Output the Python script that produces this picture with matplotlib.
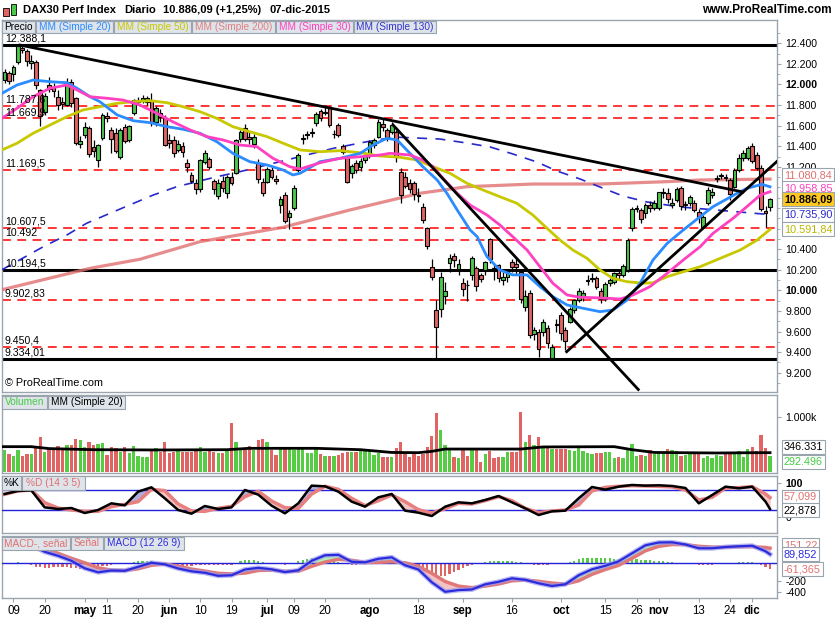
import numpy as np
import matplotlib
matplotlib.use("Agg")
import matplotlib.pyplot as plt
from matplotlib.patches import Rectangle

plt.rcParams['font.family'] = ['Liberation Sans', 'DejaVu Sans']

# ---------------- data ----------------
tick_idx = [2, 9, 18, 23, 30, 37, 44, 51, 59, 65, 72, 82, 93, 103, 114, 125, 135, 142, 147, 156, 163, 168]
tick_lbl = ["09", "20", "may", "11", "20", "jun", "10", "19", "jul", "09", "20", "ago", "18", "sep", "16",
            "oct", "15", "26", "nov", "13", "24", "dic"]
month_lbl = {"may", "jun", "jul", "ago", "sep", "oct", "nov", "dic"}

opens = [12040,12110,12100,12221,12353,12330,12210,12221,11946,11736,
         11995,11975,11883,11825,11801,12027,11866,11420,11509,11574,
         11390,11270,11477,11690,11558,11526,11300,11591,11461,11720,
         11830,11850,11833,11849,11638,11720,11672,11461,11461,11364,
         11400,11240,11121,11040,10980,11250,11280,11060,10915,11060,
         10943,11104,11137,11470,11574,11490,11420,11234,11056,11056,
         11170,11080,10830,10926,10716,10800,11169,11470,11509,11530,
         11623,11739,11720,11769,11515,11606,11400,11283,11140,11240,
         11200,11270,11315,11410,11493,11620,11558,11540,11541,11153,
         11100,11040,11040,10930,10813,10603,10230,9810,9816,9950,
         10270,10329,10210,10074,10052,10150,10215,10150,10198,10497,
         10215,10246,10105,10130,10280,10260,10182,9841,9971,9576,
         9598,9598,9633,9340,9670,9760,9615,9696,9809,9910,
         9950,10090,10115,10117,9990,9920,10070,10080,10170,10150,
         10198,10603,10795,10780,10750,10830,10800,10800,10945,10948,
         10830,10880,10990,10830,10846,10850,10765,10620,10850,10930,
         11080,11115,11095,11072,11007,11169,11290,11290,11400,11315,
         11186,10770,10810]
highs = [12150,12135,12185,12390,12388,12345,12290,12240,11960,11920,
         12076,12010,11950,11880,12060,12050,11880,11500,11640,11600,
         11460,11420,11720,11730,11590,11580,11580,11620,11610,11860,
         11880,11900,11890,11914,11790,11760,11700,11520,11500,11460,
         11440,11280,11150,11080,11280,11360,11300,11080,11080,11110,
         11120,11150,11470,11560,11620,11540,11520,11280,11090,11200,
         11200,11120,10920,10960,10780,11020,11330,11520,11550,11580,
         11730,11760,11802,11790,11560,11630,11420,11300,11230,11270,
         11290,11340,11460,11480,11660,11670,11580,11640,11560,11190,
         11150,11080,11060,10990,10850,10620,10300,9910,10180,10080,
         10350,10360,10300,10120,10100,10330,10240,10170,10290,10510,
         10250,10260,10180,10200,10300,10300,10200,10000,10000,9640,
         9620,9720,9660,9480,9720,9790,9640,9840,9920,10020,
         10000,10150,10170,10140,10020,10080,10120,10180,10200,10260,
         10510,10810,10830,10800,10850,10870,10880,10960,10990,10990,
         10900,11000,11010,10870,10930,10880,10790,10730,11000,10990,
         11120,11140,11130,11090,11190,11320,11360,11400,11430,11340,
         11220,10820,10900]
lows = [12010,12000,12030,12200,12310,12180,12150,11960,11600,11700,
        11930,11880,11750,11760,11790,11780,11410,11380,11480,11300,
        11300,11200,11460,11640,11330,11330,11280,11430,11440,11700,
        11800,11820,11800,11600,11600,11640,11400,11380,11300,11340,
        11300,11150,11040,10940,10960,11230,11180,10940,10890,10960,
        10900,11020,11130,11440,11450,11420,11380,11040,10920,11040,
        11080,11030,10750,10650,10600,10780,11150,11420,11470,11490,
        11600,11650,11700,11590,11480,11490,11320,11040,11090,11140,
        11160,11240,11290,11380,11480,11550,11450,11520,11250,10850,
        10990,10950,10880,10860,10650,10400,10100,9338,9744,9870,
        10180,10230,10150,9950,9900,10100,9990,10080,10150,10270,
        10100,10080,10050,10080,10180,10150,9880,9800,9540,9520,
        9356,9560,9440,9334,9600,9520,9420,9680,9780,9890,
        9900,10050,10080,10010,9880,9900,10040,10060,10110,10130,
        10180,10580,10760,10650,10700,10760,10780,10780,10900,10850,
        10800,10860,10780,10780,10820,10760,10650,10607,10830,10900,
        11050,11080,11060,10880,10990,11150,11260,11270,11240,11170,
        10770,10618,10770]
closes = [12123,12036,12166,12375,12339,12228,12231,11999,11689,11891,
          11958,11940,11802,11811,12015,11817,11433,11454,11590,11328,
          11350,11410,11703,11674,11472,11350,11558,11447,11595,11845,
          11848,11865,11866,11623,11769,11682,11413,11436,11331,11420,
          11340,11197,11065,10985,11265,11333,11196,10985,11044,10995,
          11100,11040,11460,11542,11471,11473,11492,11083,10945,11180,
          11099,11058,10891,10677,10747,10996,11316,11484,11517,11540,
          11716,11673,11734,11604,11521,11512,11347,11056,11211,11174,
          11257,11309,11444,11460,11636,11585,11491,11605,11294,10925,
          11015,10985,10940,10916,10682,10432,10125,9648,10128,9997,
          10316,10299,10259,10016,10048,10318,10038,10109,10271,10303,
          10210,10124,10132,10188,10227,10230,9916,9949,9571,9613,
          9428,9689,9484,9450,9660,9582,9510,9815,9903,9995,
          9970,10097,10120,10033,9916,10065,10104,10164,10148,10238,
          10492,10795,10801,10692,10832,10801,10850,10951,10951,10887,
          10845,10988,10815,10833,10908,10783,10708,10713,10971,10960,
          11085,11120,11092,10934,11170,11285,11330,11382,11261,11190,
          10789,10752,10886]
volume_k = [394,322,285,394,285,322,322,425,625,364,
            425,394,467,394,479,485,588,576,455,546,
            485,503,515,304,455,437,364,455,334,467,
            285,273,261,406,425,364,546,346,364,394,
            364,364,364,394,455,364,382,364,346,346,
            412,891,546,425,425,467,394,576,600,546,
            394,304,425,455,455,394,425,455,334,334,
            455,322,285,285,285,304,346,364,364,364,
            394,394,382,304,334,273,273,261,425,546,
            364,273,322,285,
            322,455,649,1073,758,485,425,261,243,394,
            285,394,394,182,322,382,243,261,261,364,
            364,364,1091,546,667,485,625,455,425,406,
            406,406,406,394,382,425,382,346,322,346,
            334,364,364,243,261,243,406,503,285,304,
            285,394,322,346,322,406,394,382,285,304,
            322,322,322,243,285,243,304,285,322,364,
            334,382,261,406,455,382,667,425,285]

# moving averages: (bar index, value)
ma20_idx = [-0.6,2.8,6.4,10.2,14.0,16.3,19.2,21.4,25.3,28.9,32.7,36.5,40.1,43.9,47.7,51.3,55.1,59.0,62.6,64.8,
            66.4,70.9,75.4,79.9,82.8,85.9,88.2,91.1,94.0,97.2,99.4,101.7,104.6,106.2,108.4,111.3,114.2,117.4,
            120.3,123.2,126.4,130.0,133.8,136.7,139.9,142.8,145.7,148.9,152.5,156.3,159.2,164.6,166.8,170.2,172]
ma20_val = [11914,11995,12043,12027,12017,11963,11881,11833,11704,11648,11629,11590,11565,11526,11444,11331,11250,
            11218,11169,11121,11137,11250,11283,11331,11412,11477,11461,11331,11201,11072,10943,10781,10587,10521,
            10327,10198,10150,10150,10036,9939,9858,9826,9793,9809,9906,10069,10295,10457,10586,10716,10813,10943,
            10991,11030,11006]
ma30_idx = [-0.6,2.8,6.4,10.2,14.0,16.3,19.2,23.0,26.6,30.4,34.2,37.8,41.7,45.5,49.1,52.9,56.7,60.3,64.1,66.4,
            70.9,75.4,79.9,84.4,86.6,91.1,94.0,96.3,98.5,101.7,104.6,108.4,111.3,114.2,117.4,120.3,123.2,126.4,
            129.3,132.2,135.4,138.3,141.2,145.0,148.9,152.5,156.3,159.2,163.7,166.8,169.8,172]
ma30_val = [11671,11769,11881,11963,11995,11946,11881,11866,11849,11801,11720,11638,11558,11493,11461,11412,11396,
            11283,11201,11179,11240,11283,11298,11315,11331,11315,11266,11201,11089,10943,10829,10732,10635,10521,
            10392,10230,10069,9955,9933,9929,9923,9916,9955,10036,10166,10295,10424,10554,10700,10813,10926,10958]
ma50_idx = [-0.6,2.8,6.4,10.2,14.0,17.6,21.4,25.3,28.9,32.7,36.5,40.1,43.9,47.7,51.3,55.1,59.0,62.6,66.4,70.9,
            75.4,79.9,84.4,88.8,92.7,96.3,100.1,103.9,107.5,111.3,115.1,118.7,121.9,124.8,127.7,130.9,133.8,
            136.7,139.9,143.5,145.7,148.9,152.5,156.3,160.8,165.3,169.1,172]
ma50_val = [11364,11429,11526,11606,11687,11752,11784,11817,11833,11842,11823,11784,11736,11671,11590,11541,11493,
            11429,11364,11347,11357,11337,11305,11293,11266,11201,11137,11040,10975,10910,10846,10732,10603,10489,
            10392,10311,10198,10117,10084,10069,10074,10133,10181,10230,10311,10392,10489,10592]
ma200_idx = [-0.6,19.2,30.4,43.9,62.6,77.6,93.3,103.9,118.7,133.8,148.9,156.3,172]
ma200_val = [10006,10214,10302,10473,10613,10781,10943,11007,11033,11033,11056,11072,11081]
ma130_idx = [-0.6,8.7,14.0,18.4,23.7,33.4,38.7,47.7,52.9,64.9,73.9,81.4,87.7,97.8,103.9,109.1,114.2,119.6,124.1,
             129.3,133.8,138.9,144.4,151.8,172]
ma130_val = [10200,10424,10538,10651,10749,10926,11007,11104,11153,11283,11380,11444,11489,11470,11431,11393,11325,
             11247,11160,11082,11004,10917,10858,10810,10736]
volma_idx = [-0.6,6,10,20,35,50,55,70,80,87,93,96,99,116,121,137,141,146,160,168,172]
volma_val = [455,455,420,400,395,400,425,425,400,350,346,370,412,412,450,455,400,350,340,345,346]

# stochastic and MACD sampled every 3 bars
osc_idx = list(range(0, 172, 3)) + [172]
stoch_k = [68,77,79,28,23,26,11,20,40,34, 75,88,55,20,9,32,23,28,80,66,
           33,10,40,93,91,75,45,30,58,68, 18,12,2,30,43,40,50,62,43,25,
           5,16,18,55,89,81,90,95,93,94, 92,86,40,65,90,85,90,45, 22.878]
stoch_d = [67,77,80,42,26,20,16,16,30,37, 45,82,78,38,17,16,25,31,60,76,
           47,27,25,68,91,82,55,33,48,65, 45,21,11,24,40,38,48,60,48,25,
           12,17,20,35,77,88,91,93,92,91, 89,80,50,58,86,87,90,68, 57.099]
macd_line = [230,230,180,115,75,25,-50,-90,-72,-75, -35,5,-10,-52,-80,-95,-125,-120,-62,-45,
             -60,-88,-70,25,80,85,15,10,45,60, -20,-62,-190,-285,-268,-262,-210,-185,-150,-165,
             -200,-227,-210,-120,-60,-25,20,100,180,208, 210,188,150,150,163,170,176,120, 89.852]
macd_signal = [240,230,195,150,100,50,5,-45,-68,-72, -55,-20,-8,-28,-58,-78,-100,-106,-98,-72,
               -68,-80,-80,-30,12,40,30,8,10,16, 5,-30,-100,-182,-228,-244,-228,-207,-175,-167,
               -180,-198,-208,-175,-110,-62,-20,50,125,170, 188,186,170,162,161,166,166,158, 151.22]
macd_hist = [-10,-8,-5, 10,8, -5,-15, -35,-40,-45,-45,-40,-35,-35,-40,-45,
             -50,-55,-55,-50,-45,-40, -30,-22,-15,-10,-6,-4, 2,12,22,28,28,25,18, 8,2,-5,
             -15,-20,-24,-26,-24,-20,-18, -16,-15,-15,-18,-20,-20,-16, 8,22,32,36,34,
             20,12,8,3,0, -10,-14,-10, 5,20, 35,45,52,55,55,50,42, 30,18,8, -8,-14,-12,-6,
             4,12,20,24,25,22,17,12, -5,-20,-30,-35,
             -45,-65,-85,-105,-120,-130,-125,-110,-90,-70,-50,-30, -14,-5,
             8,18,25,28,28,26,22,22,18,14,8, -8,-12,-14,-14,-12,-10,-8,-6,-4,
             10,25,40,50,55,58,58,55,52,50,48,46,45,44,42,40,
             38,35,32,28,25,20,16,12,8,5,2, -4,-10,-14,-18,-16,-12,-8, -4,0,4,
             8,12,14,14,12,8, -20,-40,-61.365]

black_levels = [12388.1, 10194.5, 9334.01]
black_labels = ["12.388,1", "10.194,5", "9.334,01"]
red_levels = [11787.6, 11669.9, 11169.5, 10607.5, 10492.0, 9902.83, 9450.4]
red_labels = ["11.787,6", "11.669,9", "11.169,5", "10.607,5", "10.492", "9.902,83", "9.450,4"]

trend_lines = [([3.46, 165.9], [12383, 10956]),
               ([87.3, 142.4], [11606, 9037]),
               ([126.3, 173.5], [9404, 11250])]

# ---------------- styling ----------------
W, H = 835, 620
fig = plt.figure(figsize=(W / 100, H / 100), dpi=100)
fig.patch.set_facecolor('white')
GREEN = '#4cc84c'
RED = '#e06464'
SPINE = '#9aa4ae'
C20, C50, C200, C30, C130 = '#2a8cff', '#c8c800', '#e07070', '#ff40c0', '#2828cc'


def fx(x):
    return x / W


def fy(y):
    return 1 - y / H


def panel(y0, y1):
    a = fig.add_axes([fx(2), fy(y1), (777 - 2) / W, (y1 - y0) / H])
    for s in a.spines.values():
        s.set_color(SPINE)
        s.set_linewidth(1)
    a.yaxis.tick_right()
    a.tick_params(axis='y', which='both', colors=SPINE, labelcolor='black', labelsize=7.6, length=3, pad=3)
    a.set_xlim(-0.58, 173.57)
    a.set_xticks([])
    return a


N = len(closes)
xi = np.arange(N)
o, h, l, c = (np.array(v, float) for v in (opens, highs, lows, closes))
up = c >= o

# ---------- main price panel ----------
ax = panel(20, 392)
ax.set_ylim(9012.7, 12626.3)
for lev in black_levels:
    ax.axhline(lev, color='black', lw=2.2, zorder=2)
for lev in red_levels:
    ax.axhline(lev, color='#ff0000', lw=1.1, dashes=(5.8, 4.2), zorder=2)
for lev, lab in zip(black_levels + red_levels, black_labels + red_labels):
    ax.annotate(lab, xy=(0, lev), xycoords=('axes fraction', 'data'), xytext=(2, 1),
                textcoords='offset points', fontsize=7.6, va='bottom', ha='left', zorder=9)

ax.plot(ma200_idx, ma200_val, color=C200, lw=2.3, alpha=0.8, zorder=3)
ax.plot(ma130_idx, ma130_val, color=C130, lw=1.2, dashes=(6, 5), zorder=3)
ax.vlines(xi, l, h, color='black', lw=0.9, zorder=4)
ax.bar(xi, np.maximum(np.abs(c - o), 8), bottom=np.minimum(o, c), width=0.85,
       color=np.where(up, GREEN, RED), edgecolor='black', linewidth=0.8, zorder=5)
ax.plot(ma50_idx, ma50_val, color=C50, lw=2, zorder=6)
ax.plot(ma20_idx, ma20_val, color=C20, lw=2, zorder=6)
ax.plot(ma30_idx, ma30_val, color=C30, lw=2, zorder=6)
for tx, ty in trend_lines:
    ax.plot(tx, ty, color='black', lw=2, zorder=7)

ticks_main = [9200, 9400, 9600, 9800, 10000, 10200, 10400, 11200, 11400, 11600, 11800, 12000, 12200, 12400]
ax.set_yticks(ticks_main)
ax.set_yticklabels([f"{v // 1000}.{v % 1000:03d}" for v in ticks_main])
ax.set_yticks(np.arange(9100, 12600, 100), minor=True)
ax.tick_params(axis='y', which='minor', length=2)
for t in ax.get_yticklabels():
    if t.get_text() in ("12.000", "10.000"):
        t.set_fontweight('bold')
ax.text(0.004, 0.012, "\u00a9 ProRealTime.com", transform=ax.transAxes, fontsize=7.8, va='bottom', zorder=9)


def vbox(a, val, text, color, bg='white', dy=0.0, bold=False):
    a.annotate(text, xy=(1, val), xycoords=('axes fraction', 'data'), xytext=(5, -dy * 0.72),
               textcoords='offset points', fontsize=7.8, color=color, va='center', ha='left',
               fontweight='bold' if bold else 'normal', annotation_clip=False, zorder=20,
               bbox=dict(boxstyle='square,pad=0.18', fc=bg, ec=SPINE, lw=0.8))


vbox(ax, 11080.84, "11.080,84", '#e07070', dy=-4)
vbox(ax, 10958.85, "10.958,85", C30, dy=-3.4)
vbox(ax, 10735.90, "10.735,90", C130)
vbox(ax, 10591.84, "10.591,84", '#b8b800')
vbox(ax, 10886.09, "10.886,09", 'black', bg='#ffc820', bold=True)

# ---------- volume ----------
av = panel(395, 472.7)
av.set_ylim(-18, 1394)
av.bar(xi, volume_k, width=0.75, color=np.where(up, '#55cc44', '#e06464'), zorder=2)
av.plot(volma_idx, volma_val, color='black', lw=2, zorder=3)
av.set_yticks([1000])
av.set_yticklabels(["1.000k"])
vbox(av, 346.331, "346.331", 'black', dy=-5.7)
vbox(av, 292.496, "292.496", '#44cc44', dy=6.4)

# ---------- stochastic ----------
ast = panel(475.7, 533.3)
ast.set_ylim(-49.8, 122.8)
k = np.array(stoch_k, float)
d = np.array(stoch_d, float)
ast.fill_between(osc_idx, k, d, where=k >= d, interpolate=True, color='#aeaedc', zorder=2)
ast.fill_between(osc_idx, k, d, where=k < d, interpolate=True, color='#f4c4c4', zorder=2)
ast.axhline(80, color='#2222dd', lw=1, zorder=3)
ast.axhline(20, color='#2222dd', lw=1, zorder=3)
ast.plot(osc_idx, d, color='#e88080', lw=2.5, zorder=4)
ast.plot(osc_idx, k, color='black', lw=1.8, zorder=5)
ast.set_yticks([100, 0])
ast.set_yticklabels(["100", "0"])
ast.get_yticklabels()[0].set_fontweight('bold')
vbox(ast, 57.099, "57,099", '#e07070', dy=-1)
vbox(ast, 22.878, "22,878", 'black', dy=1)

# ---------- MACD ----------
am = panel(536, 597.7)
am.set_ylim(-344, 273)
am.bar(xi, macd_hist, width=0.5, color=np.where(np.array(macd_hist) >= 0, '#55cc44', '#e06464'), zorder=2)
ml = np.array(macd_line, float)
ms = np.array(macd_signal, float)
am.fill_between(osc_idx, ml, ms, where=ml >= ms, interpolate=True, color='#b4f0b4', zorder=3)
am.fill_between(osc_idx, ml, ms, where=ml < ms, interpolate=True, color='#f4c4c4', zorder=3)
am.axhline(0, color='#2222dd', lw=1, zorder=4)
am.plot(osc_idx, ms, color='#e07878', lw=2.5, zorder=5)
am.plot(osc_idx, ml, color='#9a9af0', lw=3.5, alpha=0.7, zorder=6)
am.plot(osc_idx, ml, color='#2b2bdd', lw=1.6, zorder=7)
am.set_yticks([-174, -284])
am.set_yticklabels(["-200", "-400"])
vbox(am, 151.22, "151,22", '#e07070', dy=-3)
vbox(am, 89.852, "89,852", '#2b2bdd')
vbox(am, -61.365, "-61,365", '#e07070')
am.set_xticks(tick_idx)
am.set_xticklabels(tick_lbl)
am.tick_params(axis='x', colors=SPINE, labelcolor='black', labelsize=8.3, length=3, pad=2.5)
for t in am.get_xticklabels():
    if t.get_text() in month_lbl:
        t.set_fontweight('bold')

# ---------- legend tabs ----------
def tabs(y0, y1, items):
    for text, x0, x1, col in items:
        fig.add_artist(Rectangle((fx(x0), fy(y1)), (x1 - x0) / W, (y1 - y0) / H, transform=fig.transFigure,
                                 fc='#dfe4ea', ec=SPINE, lw=0.8, zorder=30))
        fig.text(fx((x0 + x1) / 2), fy((y0 + y1) / 2), text, color=col, fontsize=7.3, ha='center',
                 va='center', zorder=31)


tabs(20.5, 33, [("Precio", 2, 35, 'black'), ("MM (Simple 20)", 36, 113, C20), ("MM (Simple 50)", 114, 191, C50),
                ("MM (Simple 200)", 192, 275, '#e08080'), ("MM (Simple 30)", 276, 353, C30),
                ("MM (Simple 130)", 354, 436, '#3333cc')])
tabs(395.5, 408.5, [("Volumen", 2, 47, '#44cc44'), ("MM (Simple 20)", 48, 125, 'black')])
tabs(476, 489.5, [("%K", 2, 21, 'black'), ("%D (14 3 5)", 22, 85, '#e07070')])
tabs(536.5, 550, [("MACD-, se\u00f1al", 2, 70, '#e07070'), ("Se\u00f1al", 71, 103, '#e07070'),
                  ("MACD (12 26 9)", 104, 184, '#3030dd')])

# ---------- header ----------
fig.add_artist(Rectangle((fx(3), fy(16)), 6 / W, 8 / H, transform=fig.transFigure, fc=RED, ec='black', lw=0.6))
fig.add_artist(Rectangle((fx(11), fy(15)), 5 / W, 11 / H, transform=fig.transFigure, fc=GREEN, ec='black', lw=0.6))
for txt, xx in [("DAX30 Perf Index", 23), ("Diario", 124), ("10.886,09 (+1,25%)", 163), ("07-dic-2015", 270)]:
    fig.text(fx(xx), fy(10), txt, fontsize=8.0, fontweight='bold', va='center', ha='left')
fig.text(fx(832), fy(10), "www.ProRealTime.com", fontsize=8.5, fontweight='bold', va='center', ha='right')

fig.savefig("out.png", dpi=100)
